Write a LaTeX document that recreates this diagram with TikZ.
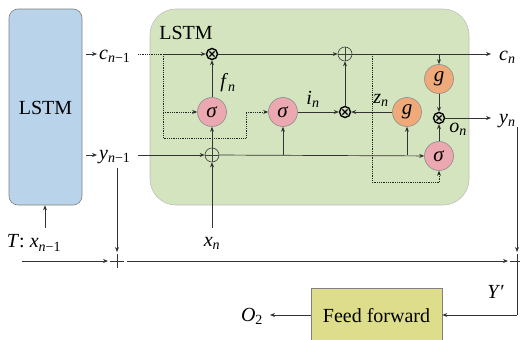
\documentclass[tikz,border=0pt]{standalone}
\usepackage{fontspec}
\setmainfont{Liberation Serif}
\usetikzlibrary{arrows.meta}
\definecolor{boxblue}{RGB}{184,211,234}
\definecolor{boxgreen}{RGB}{212,228,190}
\definecolor{sigpink}{RGB}{236,168,176}
\definecolor{gorange}{RGB}{240,170,122}
\definecolor{ffyellow}{RGB}{221,221,140}
\newcommand{\vsub}[2]{\textit{#1}\textsubscript{#2}}
\tikzset{
  arr/.style={-{Stealth[length=5pt,width=4pt]}, line width=0.7pt, draw=black!80},
  ln/.style={line width=0.7pt, draw=black!80},
  dot/.style={densely dotted, line width=0.8pt, draw=black!85},
  sig/.style={circle, fill=sigpink, draw=black!45, line width=0.6pt, minimum size=29pt, inner sep=0pt, font=\fontsize{21}{24}\selectfont},
  gbox/.style={circle, fill=gorange, draw=black!45, line width=0.6pt, minimum size=29pt, inner sep=0pt, font=\fontsize{21}{24}\selectfont},
  mul/.style={circle, draw=black, line width=1.4pt, minimum size=11pt, inner sep=0pt, path picture={
      \draw[line width=1.2pt] ([shift={(-2.6pt,-2.6pt)}]path picture bounding box.center) -- ([shift={(2.6pt,2.6pt)}]path picture bounding box.center);
      \draw[line width=1.2pt] ([shift={(-2.6pt,2.6pt)}]path picture bounding box.center) -- ([shift={(2.6pt,-2.6pt)}]path picture bounding box.center);}},
  add/.style={circle, draw=black!75, line width=0.6pt, minimum size=14pt, inner sep=0pt, path picture={
      \draw[line width=0.6pt] ([xshift=-7pt]path picture bounding box.center) -- ([xshift=7pt]path picture bounding box.center);
      \draw[line width=0.6pt] ([yshift=-7pt]path picture bounding box.center) -- ([yshift=7pt]path picture bounding box.center);}},
  lbl/.style={inner sep=1pt, font=\fontsize{20}{23}\selectfont},
}
\begin{document}
\begin{tikzpicture}[x=1pt,y=-1pt]
\useasboundingbox (0,0) rectangle (520,340);
\clip (0,0) rectangle (520,340);
% boxes
\node[draw=black!50, fill=boxblue, rounded corners=9pt, minimum width=73pt, minimum height=196pt, line width=0.6pt] (lstmL) at (45.5,107) {};
\node[lbl] at (45.5,108) {LSTM};
\node[draw=black!25, fill=boxgreen, rounded corners=26pt, minimum width=319pt, minimum height=196pt, line width=0.6pt] (lstmR) at (309.5,107) {};
\node[lbl] (lstmT) at (186,33) {LSTM};
% left labels
\node[lbl, anchor=west] (cprev) at (98,56) {\vsub{c}{\textit{n}−1}};
\node[lbl, anchor=west] (yprev) at (98,157) {\vsub{y}{\textit{n}−1}};
\coordinate (ca) at (86,54);
\coordinate (ya) at (86,155);
\draw[arr] (ca) -- (97,54);
\draw[arr] (ya) -- (97,155);
% gate nodes
\node[mul] (mulF) at (212,54) {};
\node[add] (plusC) at (345,54) {};
\node[sig] (sigF) at (212,112) {\textit{σ}};
\node[sig] (sigI) at (283,112) {\textit{σ}};
\node[mul] (mulI) at (345,112) {};
\node[gbox] (gZ) at (407,112) {\textit{g}};
\node[gbox] (gC) at (439,79) {\textit{g}};
\node[mul] (mulO) at (439,118) {};
\node[sig] (sigO) at (439,156) {\textit{σ}};
\node[add] (plusY) at (212,155) {};
% coordinates
\coordinate (b1) at (163,54);
\coordinate (b2) at (163,138);
\coordinate (b3) at (246,138);
\coordinate (b4) at (246,112);
\coordinate (cs) at (138,54);
\coordinate (ys) at (138,155);
\coordinate (brI) at (283,155);
\coordinate (brZ) at (407,155);
\coordinate (d1) at (372,54);
\coordinate (d2) at (372,182);
\coordinate (d3) at (439,182);
\coordinate (gbr) at (439,54);
\coordinate (cend) at (491,54);
\coordinate (yend) at (491,118);
\coordinate (xs) at (212,228);
% c line
\draw[dot] (cs) -- (b1);
\draw[arr] (b1) -- (mulF);
\draw[dot] (b1) -- (b2) -- (b3) -- (b4);
\draw[dot, -{Stealth[length=5pt,width=4pt]}] (163,112) -- (sigF);
\draw[dot, -{Stealth[length=5pt,width=4pt]}] (b4) -- (sigI);
\draw[arr] (mulF) -- (plusC);
\draw[arr] (sigF) -- (mulF);
\node[lbl] at (228,83) {\vsub{f}{\textit{n}}};
\draw[arr] (plusY) -- (sigF);
\draw[arr] (ys) -- (plusY);
\draw[arr] (xs) -- (plusY);
\node[lbl] (xn) at (212,243) {\vsub{x}{\textit{n}}};
\draw[arr] (plusY) -- (sigO);
\draw[arr] (brI) -- (sigI);
\draw[arr] (brZ) -- (gZ);
\draw[arr] (sigI) -- (mulI);
\node[lbl] at (313,99) {\vsub{i}{\textit{n}}};
\draw[arr] (gZ) -- (mulI);
\node[lbl] at (381,100) {\vsub{z}{\textit{n}}};
\draw[arr] (mulI) -- (plusC);
\draw[arr] (plusC) -- (cend);
\node[lbl, anchor=west] (cn) at (498,57) {\vsub{c}{\textit{n}}};
\draw[dot] (d1) -- (d2) -- (d3);
\draw[dot, -{Stealth[length=5pt,width=4pt]}] (d3) -- (sigO);
\draw[arr] (gbr) -- (gC);
\draw[arr] (gC) -- (mulO);
\draw[arr] (sigO) -- (mulO);
\node[lbl] at (458,129) {\vsub{o}{\textit{n}}};
\draw[arr] (mulO) -- (yend);
\node[lbl, anchor=west] (yn) at (498,121) {\vsub{y}{\textit{n}}};
% bottom
\draw[ln] (117,254) -- (117,268);
\draw[ln] (110,261) -- (124,261);
\draw[ln] (517,254) -- (517,268);
\draw[ln] (510,261) -- (524,261);
\draw[arr] (117,168) -- (117,252);
\draw[arr] (22,261) -- (108,261);
\draw[arr] (127,261) -- (508,261);
\draw[arr] (517,127) -- (517,252);
\node[lbl] (T) at (34,243) {\textit{T}: \vsub{x}{\textit{n}−1}};
\draw[arr] (45,228) -- (lstmL.south -| 45,0);
\node[draw=black!50, fill=ffyellow, minimum width=131pt, minimum height=56pt, line width=0.6pt] (ff) at (376.5,316) {};
\node[lbl] at (376.5,316) {Feed forward};
\coordinate (q1) at (517,315);
\draw[ln] (517,268) -- (q1);
\draw[arr] (q1) -- (ff.east |- q1);
\coordinate (oend) at (270,315);
\draw[arr] (ff.west |- oend) -- (oend);
\node[lbl] (O2) at (252,316) {\vsub{O}{2}};
\node[lbl] (Yp) at (496,292) {\textit{Y}′};
\end{tikzpicture}
\end{document}
